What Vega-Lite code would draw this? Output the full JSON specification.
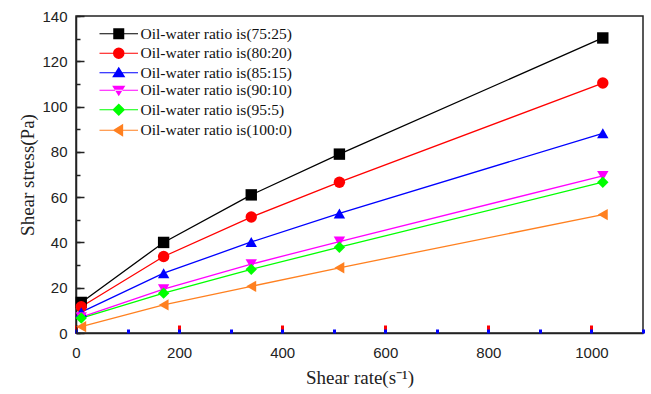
{
  "$schema": "https://vega.github.io/schema/vega-lite/v6.json",
  "width": 567,
  "height": 317,
  "autosize": {"type": "none"},
  "padding": {"left": 76, "top": 16, "right": 8, "bottom": 61},
  "background": "white",
  "config": {
    "view": {"stroke": "#222", "strokeWidth": 1.5}
  },
  "data": {
    "values": [
      {"series": "Oil-water ratio is(75:25)", "rate": 10.2, "stress": 13.5},
      {"series": "Oil-water ratio is(75:25)", "rate": 170, "stress": 40},
      {"series": "Oil-water ratio is(75:25)", "rate": 340, "stress": 61},
      {"series": "Oil-water ratio is(75:25)", "rate": 511, "stress": 79},
      {"series": "Oil-water ratio is(75:25)", "rate": 1022, "stress": 130.3},
      {"series": "Oil-water ratio is(80:20)", "rate": 10.2, "stress": 11.6},
      {"series": "Oil-water ratio is(80:20)", "rate": 170, "stress": 33.8},
      {"series": "Oil-water ratio is(80:20)", "rate": 340, "stress": 51.2},
      {"series": "Oil-water ratio is(80:20)", "rate": 511, "stress": 66.6},
      {"series": "Oil-water ratio is(80:20)", "rate": 1022, "stress": 110.4},
      {"series": "Oil-water ratio is(85:15)", "rate": 10.2, "stress": 9.2},
      {"series": "Oil-water ratio is(85:15)", "rate": 170, "stress": 26.4},
      {"series": "Oil-water ratio is(85:15)", "rate": 340, "stress": 40.2},
      {"series": "Oil-water ratio is(85:15)", "rate": 511, "stress": 52.8},
      {"series": "Oil-water ratio is(85:15)", "rate": 1022, "stress": 88.2},
      {"series": "Oil-water ratio is(90:10)", "rate": 10.2, "stress": 7.0},
      {"series": "Oil-water ratio is(90:10)", "rate": 170, "stress": 19.4},
      {"series": "Oil-water ratio is(90:10)", "rate": 340, "stress": 30.4},
      {"series": "Oil-water ratio is(90:10)", "rate": 511, "stress": 40.4},
      {"series": "Oil-water ratio is(90:10)", "rate": 1022, "stress": 69.4},
      {"series": "Oil-water ratio is(95:5)", "rate": 10.2, "stress": 6.6},
      {"series": "Oil-water ratio is(95:5)", "rate": 170, "stress": 17.6},
      {"series": "Oil-water ratio is(95:5)", "rate": 340, "stress": 28.1},
      {"series": "Oil-water ratio is(95:5)", "rate": 511, "stress": 37.9},
      {"series": "Oil-water ratio is(95:5)", "rate": 1022, "stress": 66.6},
      {"series": "Oil-water ratio is(100:0)", "rate": 10.2, "stress": 2.8},
      {"series": "Oil-water ratio is(100:0)", "rate": 170, "stress": 12.4},
      {"series": "Oil-water ratio is(100:0)", "rate": 340, "stress": 20.6},
      {"series": "Oil-water ratio is(100:0)", "rate": 511, "stress": 28.8},
      {"series": "Oil-water ratio is(100:0)", "rate": 1022, "stress": 52.3}
    ]
  },
  "resolve": {
    "axis": {"x": "independent", "y": "independent"},
    "scale": {"shape": "independent"},
    "legend": {"color": "independent", "shape": "independent"}
  },
  "layer": [
    {
      "mark": {"type": "line", "strokeWidth": 1.3},
      "encoding": {
        "x": {
          "field": "rate",
          "type": "quantitative",
          "scale": {"domain": [0, 1100], "nice": false, "zero": false},
          "axis": {
            "orient": "bottom",
            "title": "Shear rate(s⁻¹)",
            "format": "d",
            "tickCount": 6,
            "grid": false,
            "ticks": true,
            "tickSize": -8,
            "tickColor": "red",
            "tickWidth": 3,
            "domainColor": "#222",
            "domainWidth": 1.5,
            "labelFont": "Liberation Sans",
            "labelFontSize": 15,
            "labelColor": "#222",
            "labelPadding": 20,
            "labelFlush": false,
            "titleFont": "Liberation Serif",
            "titleFontSize": 19,
            "titleFontWeight": "normal",
            "titleColor": "#222",
            "titlePadding": 8
          }
        },
        "y": {
          "field": "stress",
          "type": "quantitative",
          "scale": {"domain": [0, 140], "nice": false},
          "axis": {
            "orient": "left",
            "title": "Shear stress(Pa)",
            "tickCount": 7,
            "gridOpacity": 0,
            "ticks": true,
            "tickSize": -8,
            "tickColor": "#222",
            "tickWidth": 1.5,
            "domainColor": "#222",
            "domainWidth": 1.5,
            "labelFont": "Liberation Sans",
            "labelFontSize": 15,
            "labelColor": "#222",
            "labelPadding": 17,
            "titleFont": "Liberation Serif",
            "titleFontSize": 19,
            "titleFontWeight": "normal",
            "titleColor": "#222",
            "titlePadding": 4
          }
        },
        "color": {
          "field": "series",
          "type": "nominal",
          "scale": {
            "domain": ["Oil-water ratio is(75:25)", "Oil-water ratio is(80:20)", "Oil-water ratio is(85:15)", "Oil-water ratio is(90:10)", "Oil-water ratio is(95:5)", "Oil-water ratio is(100:0)"],
            "range": ["#000000", "#ff0000", "#0000ff", "#ff00ff", "#00ff00", "#ff8020"]
          },
          "legend": null
        }
      }
    },
    {
      "mark": {"type": "point", "filled": true, "size": 130, "opacity": 1},
      "encoding": {
        "x": {
          "field": "rate",
          "type": "quantitative",
          "axis": {
            "orient": "bottom",
            "title": null,
            "tickCount": 11,
            "grid": false,
            "labels": false,
            "domain": false,
            "ticks": true,
            "tickSize": -4,
            "tickColor": "blue",
            "tickWidth": 3
          }
        },
        "y": {
          "field": "stress",
          "type": "quantitative",
          "axis": {
            "orient": "left",
            "title": null,
            "tickCount": 14,
            "gridOpacity": 0,
            "labels": false,
            "domain": false,
            "ticks": true,
            "tickSize": -4,
            "tickColor": "#222",
            "tickWidth": 1.5
          }
        },
        "color": {"field": "series", "type": "nominal", "legend": null},
        "shape": {
          "field": "series",
          "type": "nominal",
          "scale": {
            "domain": ["Oil-water ratio is(75:25)", "Oil-water ratio is(80:20)", "Oil-water ratio is(85:15)", "Oil-water ratio is(90:10)", "Oil-water ratio is(95:5)", "Oil-water ratio is(100:0)"],
            "range": ["square", "circle", "triangle-up", "triangle-down", "diamond", "triangle-left"]
          },
          "legend": null
        }
      }
    },
    {
      "transform": [{"filter": "false"}],
      "mark": {"type": "point", "filled": true, "size": 121, "opacity": 1},
      "encoding": {
        "color": {
          "field": "series",
          "type": "nominal",
          "legend": {
            "title": null,
            "orient": "none",
            "legendX": 35,
            "legendY": 10,
            "symbolSize": 121,
            "symbolOpacity": 1,
            "labelOffset": 14,
            "rowPadding": 0.5,
            "labelFont": "Liberation Serif",
            "labelFontSize": 15.5,
            "labelColor": "#111"
          }
        },
        "shape": {
          "field": "series",
          "type": "nominal",
          "scale": {
            "domain": ["Oil-water ratio is(75:25)", "Oil-water ratio is(80:20)", "Oil-water ratio is(85:15)", "Oil-water ratio is(90:10)", "Oil-water ratio is(95:5)", "Oil-water ratio is(100:0)"],
            "range": [
              "M-3.5,-0.11H3.5V0.11H-3.5Z M-1,-1H1V1H-1Z",
              "M-3.5,-0.11H3.5V0.11H-3.5Z M1.05,0L0.97,0.4L0.74,0.74L0.4,0.97L0,1.05L-0.4,0.97L-0.74,0.74L-0.97,0.4L-1.05,0L-0.97,-0.4L-0.74,-0.74L-0.4,-0.97L0,-1.05L0.4,-0.97L0.74,-0.74L0.97,-0.4Z",
              "M-3.5,-0.11H3.5V0.11H-3.5Z M-1.2,0.8L0,-1.1L1.2,0.8Z",
              "M-3.5,-0.11H3.5V0.11H-3.5Z M-1.2,-0.8L0,1.1L1.2,-0.8Z",
              "M-3.5,-0.11H3.5V0.11H-3.5Z M0,-1.15L1.15,0L0,1.15L-1.15,0Z",
              "M-3.5,-0.11H3.5V0.11H-3.5Z M-1.1,0L0.8,-1.2L0.8,1.2Z"
            ]
          },
          "legend": {
            "title": null,
            "orient": "none",
            "legendX": 35,
            "legendY": 10,
            "symbolSize": 121,
            "symbolOpacity": 1,
            "labelOffset": 14,
            "rowPadding": 0.5,
            "labelFont": "Liberation Serif",
            "labelFontSize": 15.5,
            "labelColor": "#111"
          }
        }
      }
    }
  ]
}
